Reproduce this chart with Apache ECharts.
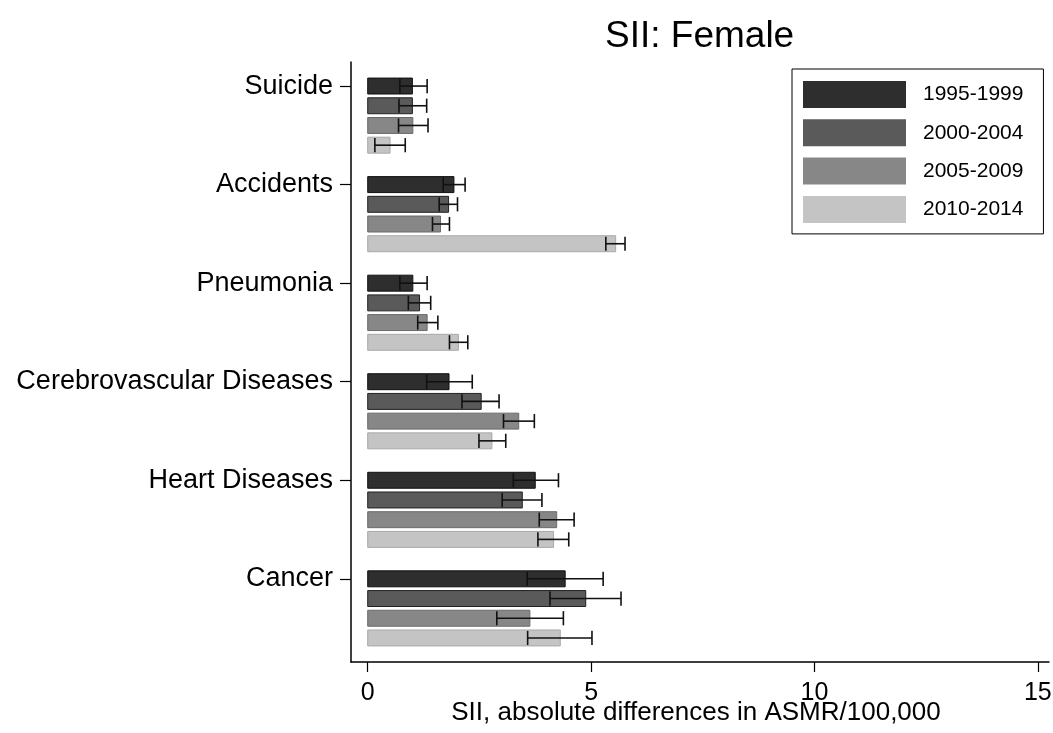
<!DOCTYPE html>
<html>
<head>
<meta charset="utf-8">
<script src="https://cdn.jsdelivr.net/npm/echarts@6/dist/echarts.min.js"></script>
<style>
html,body{margin:0;padding:0;background:#fff;}
#chart{width:1053px;height:733px;}
</style>
</head>
<body>
<div id="chart"></div>
<script>
const categories = ['Suicide','Accidents','Pneumonia','Cerebrovascular Diseases','Heart Diseases','Cancer'];
const periods = ['1995-1999','2000-2004','2005-2009','2010-2014'];
const xTicks = [0, 5, 10, 15];

const sii1995 = [1.00, 1.93, 1.01, 1.82, 3.75, 4.42];
const lo1995  = [0.72, 1.69, 0.72, 1.32, 3.26, 3.57];
const hi1995  = [1.33, 2.18, 1.33, 2.34, 4.27, 5.27];

const sii2000 = [1.00, 1.81, 1.16, 2.54, 3.46, 4.88];
const lo2000  = [0.70, 1.60, 0.91, 2.11, 3.01, 4.08];
const hi2000  = [1.32, 2.01, 1.41, 2.94, 3.90, 5.67];

const sii2005 = [1.01, 1.63, 1.33, 3.38, 4.23, 3.63];
const lo2005  = [0.69, 1.45, 1.12, 3.04, 3.84, 2.89];
const hi2005  = [1.35, 1.83, 1.57, 3.73, 4.62, 4.38];

const sii2010 = [0.50, 5.55, 2.03, 2.78, 4.16, 4.31];
const lo2010  = [0.16, 5.33, 1.83, 2.49, 3.81, 3.58];
const hi2010  = [0.84, 5.76, 2.24, 3.09, 4.50, 5.02];

const values = [sii1995, sii2000, sii2005, sii2010];
const lows = [lo1995, lo2000, lo2005, lo2010];
const highs = [hi1995, hi2000, hi2005, hi2010];
const colors = ['#2e2e2e', '#5a5a5a', '#878787', '#c4c4c4'];
const strokes = ['#111111', '#222222', '#6a6a6a', '#a8a8a8'];

const SLOTS = 5; // 4 bars + 1 gap per category
const FONT = '"Liberation Sans", Arial, Helvetica, sans-serif';

const chart = echarts.init(document.getElementById('chart'), null, {renderer: 'canvas'});

function makeSeries(j) {
  const data = categories.map((c, i) => [values[j][i], i * SLOTS + j, lows[j][i], highs[j][i]]);
  return {
    type: 'custom',
    name: periods[j],
    itemStyle: {color: colors[j], borderColor: strokes[j]},
    encode: {x: [0, 2, 3], y: 1},
    data: data,
    renderItem: function (params, api) {
      const v = api.value(0), s = api.value(1), lo = api.value(2), hi = api.value(3);
      const p0 = api.coord([0, s]);
      const p1 = api.coord([v, s]);
      const pl = api.coord([lo, s]);
      const ph = api.coord([hi, s]);
      const h = api.size([0, 0.81])[1];
      const cap = api.size([0, 0.72])[1];
      const y = p0[1];
      const lineStyle = {stroke: '#111', lineWidth: 1.6};
      return {
        type: 'group',
        children: [
          {type: 'rect', shape: {x: p0[0], y: y - h / 2, width: p1[0] - p0[0], height: h},
           style: {fill: colors[j], stroke: strokes[j], lineWidth: 1}},
          {type: 'line', shape: {x1: pl[0], y1: y, x2: ph[0], y2: y}, style: lineStyle},
          {type: 'line', shape: {x1: pl[0], y1: y - cap / 2, x2: pl[0], y2: y + cap / 2}, style: lineStyle},
          {type: 'line', shape: {x1: ph[0], y1: y - cap / 2, x2: ph[0], y2: y + cap / 2}, style: lineStyle}
        ]
      };
    }
  };
}

const option = {
  backgroundColor: '#ffffff',
  animation: false,
  textStyle: {fontFamily: FONT, color: '#000'},
  title: {
    text: 'SII: Female',
    left: 605,
    top: 18,
    padding: 0,
    textStyle: {fontFamily: FONT, fontSize: 37, fontWeight: 'normal', color: '#000'}
  },
  legend: {
    orient: 'vertical',
    left: 792,
    top: 69,
    padding: [12, 20, 11, 11],
    borderColor: '#000',
    borderWidth: 1,
    icon: 'rect',
    itemWidth: 103,
    itemHeight: 27,
    itemGap: 11.3,
    data: periods,
    textStyle: {fontFamily: FONT, fontSize: 21, color: '#000', padding: [0, 0, 0, 12]}
  },
  grid: {left: 351, right: 4, top: 62, bottom: 71, containLabel: false, outerBoundsMode: 'none'},
  xAxis: {
    type: 'value',
    min: -0.374,
    max: 15.25,
    name: 'SII, absolute differences in ASMR/100,000',
    nameLocation: 'middle',
    nameMoveOverlap: false,
    nameGap: 38,
    nameTextStyle: {fontFamily: FONT, fontSize: 26, color: '#000', padding: [0, 8, 0, 0], verticalAlign: 'top'},
    axisLine: {show: true, onZero: false, lineStyle: {color: '#000', width: 1.5}},
    axisTick: {show: true, customValues: xTicks, length: 10, lineStyle: {color: '#000', width: 1.2}},
    axisLabel: {customValues: xTicks, fontFamily: FONT, fontSize: 25, color: '#000', margin: 19},
    splitLine: {show: false}
  },
  yAxis: {
    type: 'value',
    inverse: true,
    min: -1.22,
    max: (categories.length - 1) * SLOTS + 3 + 1.22,
    axisLine: {show: true, onZero: false, lineStyle: {color: '#000', width: 1.5}},
    axisTick: {show: true, customValues: categories.map((c, i) => i * SLOTS), length: 11, lineStyle: {color: '#000', width: 1.2}},
    axisLabel: {
      customValues: categories.map((c, i) => i * SLOTS),
      formatter: function (v) { return categories[Math.round(v / SLOTS)] || ''; },
      fontFamily: FONT, fontSize: 27, color: '#000', margin: 18
    },
    splitLine: {show: false}
  },
  series: [0, 1, 2, 3].map(makeSeries)
};

chart.setOption(option);
</script>
</body>
</html>
